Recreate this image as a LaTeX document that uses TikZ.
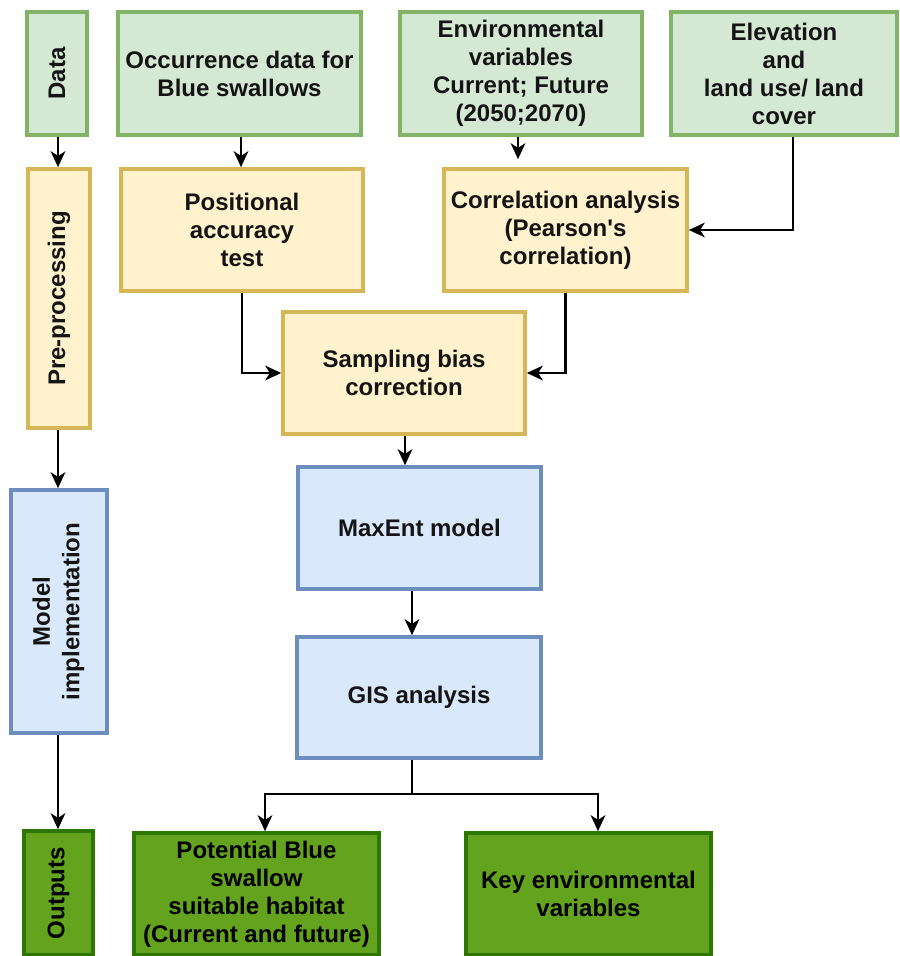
\documentclass[tikz,border=0pt]{standalone}
\usepackage{fontspec}
\usepackage{graphicx}
\setmainfont{Liberation Sans}
\usetikzlibrary{arrows.meta}
\definecolor{gfill}{HTML}{D5E8D4}\definecolor{gline}{HTML}{82B366}
\definecolor{yfill}{HTML}{FFF2CC}\definecolor{yline}{HTML}{D6B656}
\definecolor{bfill}{HTML}{DAE8FC}\definecolor{bline}{HTML}{6C8EBF}
\definecolor{ofill}{HTML}{64A31D}\definecolor{oline}{HTML}{2D7600}
\definecolor{txt}{HTML}{141414}
\begin{document}
\begin{tikzpicture}[x=0.75pt,y=-0.75pt,
  box/.style={draw, line width=2.7pt, inner sep=0pt, align=center,
    font=\bfseries\fontsize{18}{21}\selectfont, text=txt},
  sz/.style 2 args={minimum width=#1*0.75pt, minimum height=#2*0.75pt},
  gbox/.style={box, fill=gfill, draw=gline},
  ybox/.style={box, fill=yfill, draw=yline},
  bbox/.style={box, fill=bfill, draw=bline},
  obox/.style={box, fill=ofill, draw=oline, text=black},
  arr/.style={-{Stealth[length=12pt,width=11pt,inset=3.5pt]}, line width=1.6pt, black}]
\useasboundingbox (0,0) rectangle (899,956);
% Row 1: data
\node[gbox, sz={60}{123}] (data) at (57,73.5) {\rotatebox{90}{Data}};
\node[gbox, sz={243}{123}] (occ) at (239.5,73.5) {Occurrence data for\\Blue swallows};
\node[gbox, sz={242}{123}] (env) at (521,73.5) {Environmental\\variables\\Current; Future\\(2050;2070)};
\node[gbox, sz={226}{123}] (elev) at (784,73.5) {Elevation\\and\\land use/ land\\cover};
% Pre-processing
\node[ybox, sz={62}{259}] (pre) at (59,298.5) {\rotatebox{90}{Pre-processing}};
\node[ybox, sz={242}{122}] (pos) at (242,230) {Positional\\accuracy\\test};
\node[ybox, sz={243}{122}] (corr) at (565.5,230) {Correlation analysis\\(Pearson\textquotesingle s\\correlation)};
\node[ybox, sz={242}{122}] (samp) at (404,373) {Sampling bias\\correction};
% Model implementation
\node[bbox, sz={96}{243}] (model) at (59,611.5)
  {\rotatebox{90}{\begin{tabular}{@{}c@{}}Model\\[1pt]implementation\end{tabular}}};
\node[bbox, sz={243}{122}] (maxent) at (419.5,528) {MaxEnt model};
\node[bbox, sz={244}{121}] (gis) at (419,697.5) {GIS analysis};
% Outputs
\node[obox, sz={69}{124}] (outp) at (58.5,893) {\rotatebox{90}{Outputs}};
\node[obox, sz={245}{122}] (pot) at (256.5,894) {Potential Blue\\swallow\\suitable habitat\\(Current and future)};
\node[obox, sz={245}{122}] (key) at (588.5,894) {Key environmental\\variables};
% helper coordinates
\coordinate (xa) at (58,0);
\coordinate (xb) at (241,0);
\coordinate (xc) at (518,0);
\coordinate (xd) at (793,0);
\coordinate (xe) at (405,0);
\coordinate (xf) at (412,0);
\coordinate (split) at (412,794);
\coordinate (xg) at (265,0);
\coordinate (xh) at (598,0);
% arrows
\draw[arr] (data.south -| xa) -- (pre.north -| xa);
\draw[arr] (pre.south -| xa) -- (model.north -| xa);
\draw[arr] (model.south -| xa) -- (outp.north -| xa);
\draw[arr] (occ.south -| xb) -- (pos.north -| xb);
\draw[arr, shorten >=6pt] (env.south -| xc) -- (corr.north -| xc);
\draw[arr] (elev.south -| xd) |- (corr.east);
\draw[arr] (pos.south) |- (samp.west);
\draw[arr] (corr.south) |- (samp.east);
\draw[arr] (samp.south -| xe) -- (maxent.north -| xe);
\draw[arr] (maxent.south -| xf) -- (gis.north -| xf);
\draw[line width=1.6pt] (gis.south -| xf) -- (split);
\draw[arr] (split) -| (pot.north -| xg);
\draw[arr] (split) -| (key.north -| xh);
\end{tikzpicture}
\end{document}
